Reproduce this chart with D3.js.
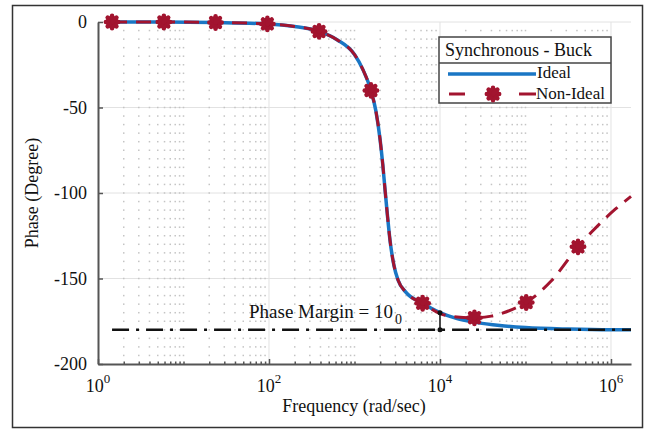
<!DOCTYPE html>
<html>
<head>
<meta charset="utf-8">
<script src="https://cdn.jsdelivr.net/npm/d3@7"></script>
<style>
  body { margin: 0; background: #fff; }
  text { font-family: "Liberation Serif", "Times New Roman", serif; fill: #111; }
</style>
</head>
<body>
<div id="chart"></div>
<script>
// Data

var xMajorTicks = [1, 1e2, 1e4, 1e6];
var xMajorExponents = ["0", "2", "4", "6"];
var yTicks = [0, -50, -100, -150, -200];

// Ideal response (frequency in rad/sec, phase in degree)
var idealFreq = [1.46, 5.89, 23.7, 95.7, 199.5, 385, 631, 1000, 1259, 1556, 1778, 1995, 2138, 2275,
  2427, 2600, 2884, 3236, 3981, 6266, 10000, 15850, 25290, 50120, 100000, 316200, 1000000, 1714000];
var idealPhase = [0, 0, -0.3, -1.1, -2.6, -5.5, -10.5, -19, -28, -40, -52, -69, -83, -98,
  -113, -127.5, -142, -151, -158, -164.5, -170, -173.5, -175.5, -177.5, -178.7, -179.6, -180, -180];

// Non-ideal response
var nonIdealFreq = [1.46, 5.89, 23.7, 95.7, 199.5, 385, 631, 1000, 1259, 1556, 1778, 1995, 2138, 2275,
  2427, 2600, 2884, 3236, 3981, 6266, 10000, 15850, 25290, 39810, 63100, 101900, 199500, 411100, 588800, 1122000, 1714000];
var nonIdealPhase = [0, 0, -0.3, -1.1, -2.6, -5.5, -10.5, -19, -28, -40, -52, -69, -83, -98,
  -113, -127.5, -142, -151, -158, -164.5, -170.5, -172.5, -173, -172, -169, -164, -151.5, -131.5, -123, -109.5, -102];
// points of the non-ideal series that carry a marker
var markerIdx = [0, 1, 2, 3, 5, 9, 19, 22, 25, 27];

var referencePhase = -180;
var marginFreq = 1e4;
var marginPhase = -170;

// Size and scales

var width = 649, height = 430;
var margin = {top: 22, right: 18, bottom: 66, left: 98};

var svg = d3.select("#chart")
  .append("svg")
  .attr("width", width)
  .attr("height", height);

var xScale = d3.scaleLog()
  .domain([1, 1714000])
  .range([margin.left, width - margin.right]);

var yScale = d3.scaleLinear()
  .domain([-200, 0])
  .range([height - margin.bottom, margin.top]);

// outer frame
svg.append("rect")
  .attr("x", 12.5).attr("y", 5.5)
  .attr("width", 630).attr("height", 422)
  .attr("fill", "none")
  .attr("stroke", "#333")
  .attr("stroke-width", 1.5);

// Grid

var minorX = [];
for (var d = 0; d < 6; d++) {
  for (var k = 1; k <= 9; k++) {
    if (k === 1 && d % 2 === 0) continue;
    minorX.push(k * Math.pow(10, d));
  }
}
var minorY = d3.range(-195, 0, 5);

var grid = svg.append("g").attr("class", "grid");

grid.selectAll(".vmajor")
  .data(xMajorTicks.slice(1))
  .enter().append("line")
  .attr("x1", d => xScale(d)).attr("x2", d => xScale(d))
  .attr("y1", yScale(0)).attr("y2", yScale(-200))
  .attr("stroke", "#e2e2e2").attr("stroke-width", 1);

grid.selectAll(".hmajor")
  .data(yTicks.slice(0, 4))
  .enter().append("line")
  .attr("x1", xScale(1)).attr("x2", xScale(1714000))
  .attr("y1", d => yScale(d)).attr("y2", d => yScale(d))
  .attr("stroke", "#e2e2e2").attr("stroke-width", 1);

minorX.forEach(function(fx) {
  grid.selectAll(null)
    .data(minorY)
    .enter().append("rect")
    .attr("x", xScale(fx) - 0.75)
    .attr("y", d => yScale(d) - 0.75)
    .attr("width", 1.5).attr("height", 1.5)
    .attr("fill", "#c4c4c4");
});

// Axes

var xAxis = svg.append("g")
  .attr("class", "axis")
  .attr("transform", `translate(0, ${yScale(-200)})`)
  .call(d3.axisBottom(xScale).tickValues(xMajorTicks).tickSize(-5).tickSizeOuter(0).tickFormat(""));

svg.append("g")
  .attr("class", "axis")
  .attr("transform", `translate(0, ${yScale(-200)})`)
  .call(d3.axisBottom(xScale).tickValues(minorX).tickSize(-2.5).tickSizeOuter(0).tickFormat(""))
  .select(".domain").remove();

var yAxis = svg.append("g")
  .attr("class", "axis")
  .attr("transform", `translate(${margin.left}, 0)`)
  .call(d3.axisLeft(yScale).tickValues(yTicks).tickSize(-5).tickSizeOuter(0).tickPadding(11)
    .tickFormat(d => String(d)));

svg.selectAll(".axis .domain").attr("stroke", "#555").attr("stroke-width", 2);
svg.selectAll(".axis .tick line").attr("stroke", "#555").attr("stroke-width", 1.5);
yAxis.selectAll("text")
  .style("font-family", '"Liberation Serif", serif')
  .style("font-size", "18px")
  .attr("fill", "#111");

// x tick labels as powers of ten
var xLabels = svg.selectAll(".xlabel")
  .data(xMajorTicks)
  .enter().append("text")
  .attr("class", "xlabel")
  .attr("x", d => xScale(d))
  .attr("y", yScale(-200) + 28)
  .attr("text-anchor", "middle")
  .style("font-size", "18px");
xLabels.append("tspan").text("10");
xLabels.append("tspan")
  .attr("dy", -9)
  .style("font-size", "13px")
  .text((d, i) => xMajorExponents[i]);

// Axis labels

svg.append("text")
  .attr("x", 354)
  .attr("y", 412)
  .attr("text-anchor", "middle")
  .style("font-size", "18px")
  .text("Frequency (rad/sec)");

svg.append("text")
  .attr("transform", "rotate(-90)")
  .attr("x", -yScale(-100))
  .attr("y", 38)
  .attr("text-anchor", "middle")
  .style("font-size", "18px")
  .text("Phase (Degree)");

// Curves

var line = d3.line()
  .x(d => xScale(d[0]))
  .y(d => yScale(d[1]))
  .curve(d3.curveMonotoneX);

var idealData = d3.zip(idealFreq, idealPhase);
var nonIdealData = d3.zip(nonIdealFreq, nonIdealPhase);

svg.append("path")
  .datum(idealData)
  .attr("d", line)
  .attr("fill", "none")
  .attr("stroke", "#1a76c4")
  .attr("stroke-width", 3.5);

svg.append("path")
  .datum(nonIdealData)
  .attr("d", line)
  .attr("fill", "none")
  .attr("stroke", "#a2142f")
  .attr("stroke-width", 3)
  .attr("stroke-dasharray", "15,9");

function drawMarker(g, cx, cy) {
  var m = g.append("g").attr("transform", `translate(${cx}, ${cy})`);
  m.append("circle").attr("r", 6.3).attr("fill", "#a2142f");
  d3.range(8).forEach(function(i) {
    var a = i * Math.PI / 4;
    m.append("line")
      .attr("x1", 0).attr("y1", 0)
      .attr("x2", 6.2 * Math.cos(a)).attr("y2", 6.2 * Math.sin(a))
      .attr("stroke", "#a2142f")
      .attr("stroke-width", 4.5)
      .attr("stroke-linecap", "round");
  });
}

var markers = svg.append("g").attr("class", "markers");
markerIdx.forEach(function(i) {
  drawMarker(markers, xScale(nonIdealFreq[i]), yScale(nonIdealPhase[i]));
});

// -180 reference line
svg.append("line")
  .attr("x1", xScale(idealFreq[0]))
  .attr("x2", xScale(idealFreq[idealFreq.length - 1]))
  .attr("y1", yScale(referencePhase))
  .attr("y2", yScale(referencePhase))
  .attr("stroke", "#111")
  .attr("stroke-width", 2.5)
  .attr("stroke-dasharray", "17,7,3,7");

// Phase margin annotation
svg.append("line")
  .attr("x1", xScale(marginFreq)).attr("x2", xScale(marginFreq))
  .attr("y1", yScale(marginPhase)).attr("y2", yScale(referencePhase))
  .attr("stroke", "#111")
  .attr("stroke-width", 1.5);
svg.selectAll(".pmdot")
  .data([marginPhase, referencePhase])
  .enter().append("circle")
  .attr("cx", xScale(marginFreq))
  .attr("cy", d => yScale(d))
  .attr("r", 2.5)
  .attr("fill", "#111");

var pmText = svg.append("text")
  .attr("x", 249)
  .attr("y", 318)
  .style("font-size", "19px")
  .text("Phase Margin = 10");
pmText.append("tspan")
  .attr("dx", 2)
  .attr("dy", 6)
  .style("font-size", "14px")
  .text("0");

// Legend

var legend = svg.append("g").attr("class", "legend");

legend.append("rect")
  .attr("x", 439).attr("y", 37)
  .attr("width", 172).attr("height", 66)
  .attr("fill", "#fff")
  .attr("stroke", "#444")
  .attr("stroke-width", 1.5);

legend.append("line")
  .attr("x1", 439).attr("x2", 611)
  .attr("y1", 63).attr("y2", 63)
  .attr("stroke", "#444")
  .attr("stroke-width", 1.5);

legend.append("text")
  .attr("x", 445).attr("y", 56)
  .style("font-size", "18px")
  .text("Synchronous - Buck");

legend.append("line")
  .attr("x1", 448).attr("x2", 536)
  .attr("y1", 74).attr("y2", 74)
  .attr("stroke", "#1a76c4")
  .attr("stroke-width", 3.5);

legend.append("line")
  .attr("x1", 449).attr("x2", 536)
  .attr("y1", 94).attr("y2", 94)
  .attr("stroke", "#a2142f")
  .attr("stroke-width", 3)
  .attr("stroke-dasharray", "16,54,17");

drawMarker(legend, 493, 94);

legend.append("text")
  .attr("x", 537).attr("y", 78)
  .style("font-size", "17px")
  .text("Ideal");

legend.append("text")
  .attr("x", 536).attr("y", 99)
  .style("font-size", "17px")
  .text("Non-Ideal");
</script>
</body>
</html>
